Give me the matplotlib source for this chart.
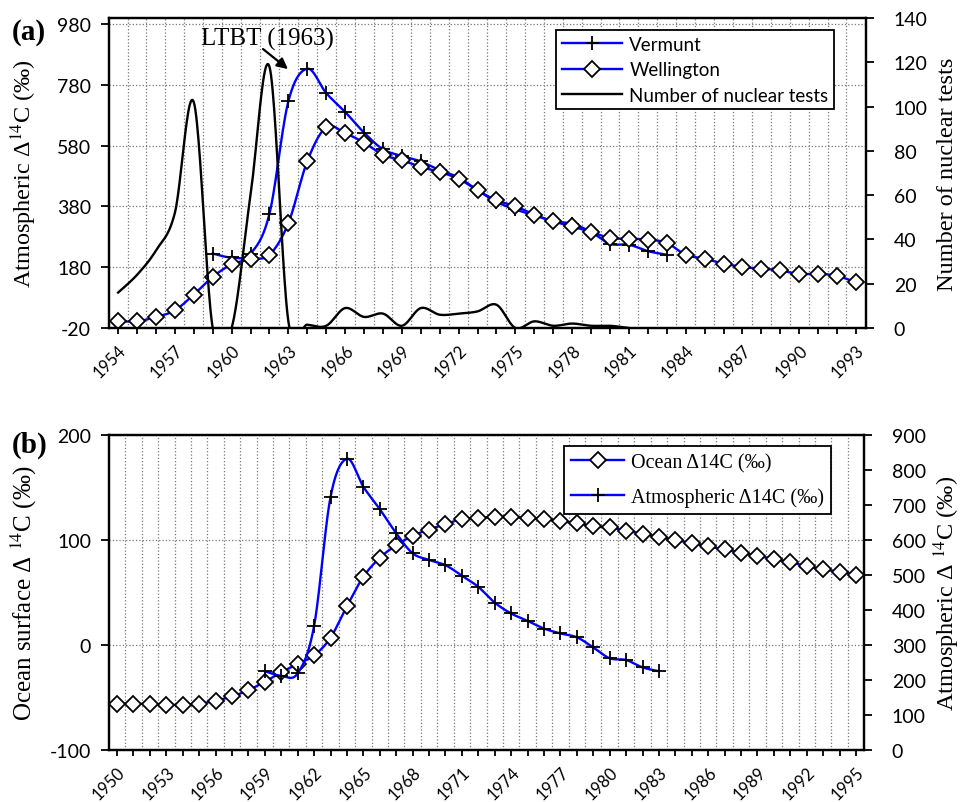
import numpy as np
import matplotlib.pyplot as plt
from matplotlib.ticker import FixedLocator

plt.rcParams['mathtext.fontset'] = 'stix'
plt.rcParams['axes.unicode_minus'] = False

SERIF = 'Liberation Serif'
SANS = 'Lato'

# panel (a): atmospheric D14C and nuclear tests
years_a = np.arange(1954, 1994)
wellington = [2, 2, 16, 38, 90, 148, 189, 206, 221, 325, 529, 641, 621, 590, 550,
              532, 510, 493, 471, 433, 400, 381, 353, 331, 314, 296, 276, 274, 271,
              260, 221, 208, 192, 181, 175, 170, 157, 159, 151, 131]
vermunt_years = np.arange(1959, 1984)
vermunt = [225, 212, 225, 356, 726, 833, 753, 691, 623, 568, 546, 528, 499, 475,
           433, 395, 370, 351, 331, 323, 296, 257, 254, 233, 221]
test_years = np.arange(1954, 1982)
nuclear_tests = [16, 24, 35, 52, 102, 0, 0, 60, 118, 3, 1.5, 1, 9, 5, 6.5, 1, 9, 6,
                 6.5, 7.5, 10.5, 0, 3, 1, 2, 1, 1, 0]

# panel (b): ocean surface vs atmospheric D14C
years_b = np.arange(1950, 1996)
ocean = [-56, -56, -56, -57, -57, -56, -53, -49, -43, -35, -26, -18, -10, 7, 37,
         65, 83, 95, 104, 110, 115, 120, 121, 122, 122, 121, 120, 118, 116, 113,
         112, 109, 106, 103, 100, 97, 94, 91, 88, 85, 82, 79, 75, 72, 70, 67]
atmos_years = np.arange(1959, 1984)
atmos = [225, 212, 219, 355, 723, 832, 752, 688, 619, 562, 543, 528, 498, 466,
         421, 390, 369, 347, 333, 322, 293, 262, 257, 236, 225]

BLUE = '#0000ff'


def smooth(x, y, n=24):
    """Spreadsheet-style smoothed line (Bezier through the points)."""
    x = np.asarray(x, float)
    y = np.asarray(y, float)
    px = np.concatenate([[x[0]], x, [x[-1]]])
    py = np.concatenate([[y[0]], y, [y[-1]]])
    t = np.linspace(0, 1, n, endpoint=False)[:, None]
    out = []
    for i in range(1, len(px) - 2):
        p0 = np.array([px[i - 1], py[i - 1]])
        p1 = np.array([px[i], py[i]])
        p2 = np.array([px[i + 1], py[i + 1]])
        p3 = np.array([px[i + 2], py[i + 2]])
        c1 = p1 + (p2 - p0) / 6
        c2 = p2 - (p3 - p1) / 6
        seg = ((1 - t) ** 3 * p1 + 3 * (1 - t) ** 2 * t * c1
               + 3 * (1 - t) * t ** 2 * c2 + t ** 3 * p2)
        out.append(seg)
    out.append(np.array([[x[-1], y[-1]]]))
    pts = np.vstack(out)
    return pts[:, 0], pts[:, 1]


def marker_kw(marker):
    ms = 10 if marker == '+' else 8
    return dict(marker=marker, ms=ms, mec='black', mew=1.3,
                mfc='white' if marker == 'D' else 'none')


def plot_series(ax, x, y, marker, label):
    sx, sy = smooth(x, y)
    ax.plot(sx, sy, color=BLUE, lw=1.7, zorder=3)
    ax.plot(x, y, linestyle='none', zorder=4, **marker_kw(marker))
    return plt.Line2D([], [], color=BLUE, lw=1.7, label=label, **marker_kw(marker))


def style_axes(ax, axr, years, step):
    ax.set_xticks(years)
    ax.set_xticklabels([str(y) if (y - years[0]) % step == 0 else '' for y in years],
                       rotation=45, ha='right', va='top', rotation_mode='anchor',
                       family=SANS, fontsize=12)
    ax.xaxis.set_minor_locator(FixedLocator(years[:-1] + 0.5))
    ax.tick_params(axis='x', which='minor', length=0)
    ax.grid(True, axis='x', which='minor', linestyle=':', color='#777777', lw=0.9)
    ax.grid(True, axis='y', which='major', linestyle=':', color='#777777', lw=0.9)
    for a in (ax, axr):
        a.tick_params(which='major', direction='out', length=6, width=1.3)
        for s in a.spines.values():
            s.set_linewidth(1.6)
        for lab in a.get_yticklabels():
            lab.set_family(SANS)
            lab.set_fontsize(14)
    ax.tick_params(axis='x', which='major', length=4, pad=6)
    ax.tick_params(axis='y', pad=7)
    axr.tick_params(axis='y', pad=14)


fig = plt.figure(figsize=(9.64, 8.03), dpi=100)

# ----- panel (a)
ax1 = fig.add_axes([0.1131, 0.5903, 0.7852, 0.3860])
ax1r = ax1.twinx()
h_v = plot_series(ax1, vermunt_years, vermunt, '+', 'Vermunt')
h_w = plot_series(ax1, years_a, wellington, 'D', 'Wellington')
tx, ty = smooth(test_years, nuclear_tests)
h_n, = ax1r.plot(tx, ty, color='black', lw=1.7, label='Number of nuclear tests')
ax1.set_xlim(1953.52, 1993.53)
ax1.set_ylim(-20, 1000)
ax1.set_yticks(np.arange(-20, 981, 200))
ax1r.set_ylim(0, 140)
ax1r.set_yticks(np.arange(0, 141, 20))
style_axes(ax1, ax1r, years_a, 3)
ax1.set_ylabel('Atmospheric Δ$^{14}$C (‰)', family=SERIF, fontsize=17.5)
ax1.yaxis.set_label_coords(-0.093, 0.5)
ax1r.set_ylabel('Number of nuclear tests', family=SERIF, fontsize=17.5)
ax1r.yaxis.set_label_coords(1.094, 0.5)
ax1.text(1961.9, 932, 'LTBT (1963)', ha='center', va='center', family=SERIF,
         fontsize=18)
ax1.annotate('', xy=(1962.98, 832), xytext=(1961.66, 898),
             arrowprops=dict(arrowstyle='-|>', color='black', lw=1.6,
                             mutation_scale=16, shrinkA=0, shrinkB=0))
leg = ax1r.legend(handles=[h_v, h_w, h_n], loc='upper right',
                  bbox_to_anchor=(0.958, 0.961), borderaxespad=0,
                  prop={'family': SANS, 'size': 13.5},
                  fancybox=False, edgecolor='black', framealpha=1,
                  handlelength=3.2, handletextpad=0.4, numpoints=1,
                  borderpad=0.3, labelspacing=0.45)
leg.get_frame().set_linewidth(1.3)

# ----- panel (b)
ax2 = fig.add_axes([0.1131, 0.0648, 0.7832, 0.3922])
ax2r = ax2.twinx()
h_o = plot_series(ax2, years_b, ocean, 'D', 'Ocean Δ14C (‰)')
h_a = plot_series(ax2r, atmos_years, atmos, '+', 'Atmospheric Δ14C (‰)')
ax2.set_xlim(1949.51, 1995.49)
ax2.set_ylim(-100, 200)
ax2.set_yticks([-100, 0, 100, 200])
ax2r.set_ylim(0, 900)
ax2r.set_yticks(np.arange(0, 901, 100))
style_axes(ax2, ax2r, years_b, 3)
ax2.set_ylabel('Ocean surface Δ $^{14}$C (‰)', family=SERIF, fontsize=18)
ax2.yaxis.set_label_coords(-0.093, 0.5)
ax2r.set_ylabel('Atmospheric Δ $^{14}$C (‰)', family=SERIF, fontsize=17.5)
ax2r.yaxis.set_label_coords(1.089, 0.5)
leg2 = ax2r.legend(handles=[h_o, h_a], loc='upper right',
                   bbox_to_anchor=(0.956, 0.965), borderaxespad=0,
                   prop={'family': SERIF, 'size': 14.5},
                   fancybox=False, edgecolor='black', framealpha=1,
                   handlelength=2.6, handletextpad=0.35, numpoints=1,
                   borderpad=0.35, labelspacing=0.75)
leg2.get_frame().set_linewidth(1.3)

fig.text(0.012, 0.950, '(a)', family=SERIF, fontweight='bold', fontsize=21)
fig.text(0.012, 0.436, '(b)', family=SERIF, fontweight='bold', fontsize=21)

fig.savefig('out.png', dpi=100)
